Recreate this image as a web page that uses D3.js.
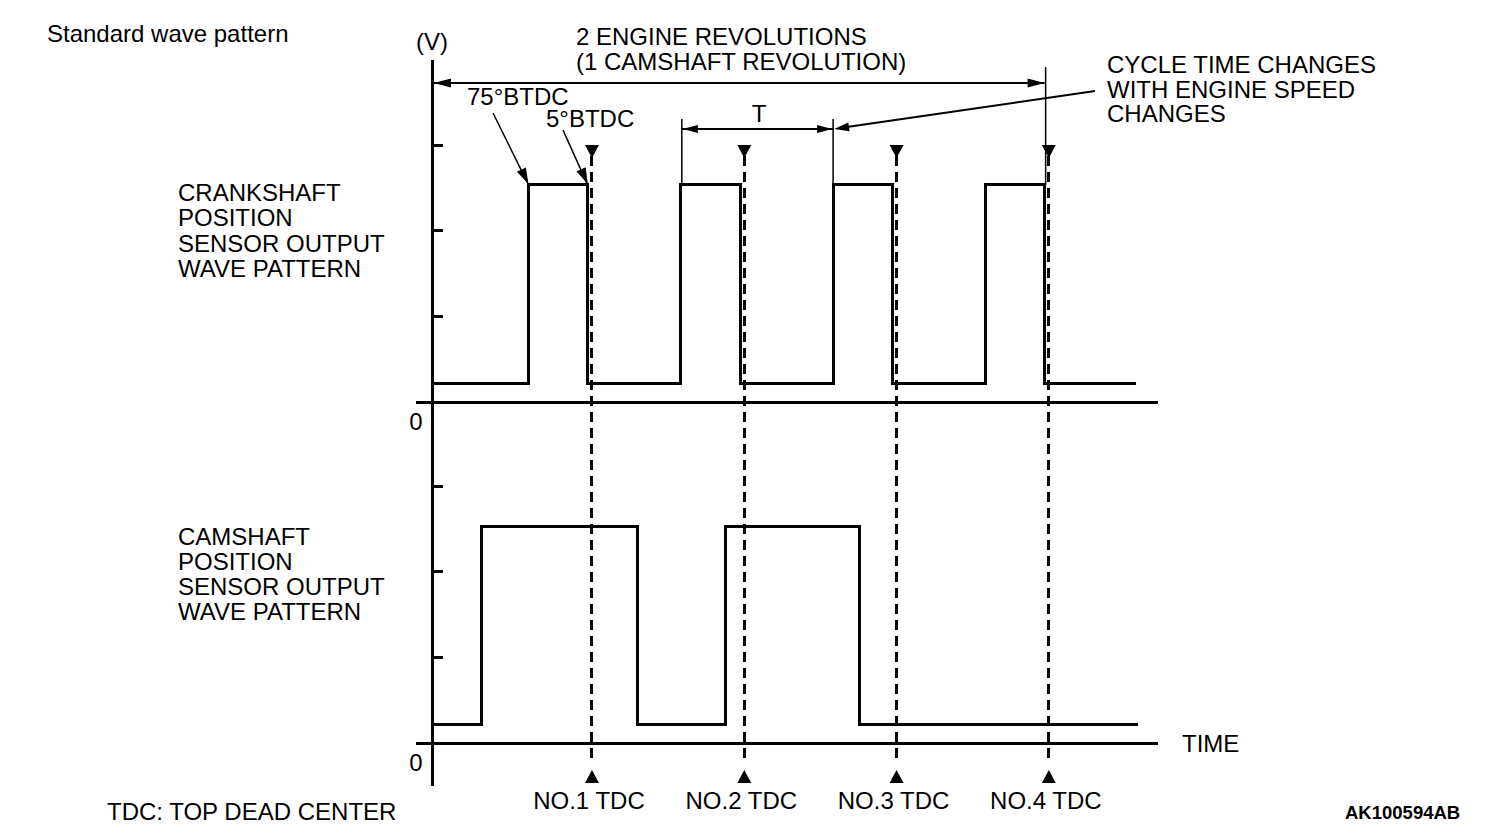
<!DOCTYPE html>
<html>
<head>
<meta charset="utf-8">
<script src="https://cdn.jsdelivr.net/npm/d3@7"></script>
<style>
  html, body { margin: 0; padding: 0; background: #fff; }
  svg { display: block; }
  text { font-family: "Liberation Sans", Arial, Helvetica, sans-serif; fill: #000; }
</style>
</head>
<body>
<svg id="chart" width="1504" height="840"></svg>
<script>
// ---- data (crank angle in degrees, signal in volts) ----
const tdcLabels = ["NO.1 TDC", "NO.2 TDC", "NO.3 TDC", "NO.4 TDC"];
const tdcAngles = [188, 368, 548, 728];
const crankTimes = [0, 113, 183, 293, 363, 473, 543, 653, 723, 831];
const crankVolts = [0.22, 2.53, 0.22, 2.53, 0.22, 2.53, 0.22, 2.53, 0.22, 0.22];
const camTimes = [0, 57, 242, 346, 504, 833];
const camVolts = [0.21, 2.52, 0.21, 2.52, 0.21, 0.21];
const yTickValues = [1, 2, 3];
const crankLabel = ["CRANKSHAFT", "POSITION", "SENSOR OUTPUT", "WAVE PATTERN"];
const camLabel = ["CAMSHAFT", "POSITION", "SENSOR OUTPUT", "WAVE PATTERN"];
const revLabel = ["2 ENGINE REVOLUTIONS", "(1 CAMSHAFT REVOLUTION)"];
const cycleLabel = ["CYCLE TIME CHANGES", "WITH ENGINE SPEED", "CHANGES"];

const svg = d3.select("#chart");
const FS = 24;

const x = d3.scaleLinear().domain([-20, 857]).range([416, 1158]);
const yUp = d3.scaleLinear().domain([0, 4]).range([402, 58.8]);
const yLo = d3.scaleLinear().domain([0, 4]).range([743, 399.8]);

// ---- axes ----
const axisX = x(0);
svg.append("line").attr("x1", axisX).attr("x2", axisX).attr("y1", yUp(4) + 1).attr("y2", 786)
  .attr("stroke", "#000").attr("stroke-width", 3).attr("shape-rendering", "crispEdges");

[yUp, yLo].forEach(ys => {
  const g = svg.append("g").attr("transform", `translate(${axisX},0)`)
    .call(d3.axisRight(ys).tickValues(yTickValues).tickSize(10).tickFormat(""));
  g.select(".domain").remove();
  g.selectAll(".tick line").attr("stroke", "#000").attr("stroke-width", 3).attr("shape-rendering", "crispEdges");
  // baseline (x axis)
  svg.append("line").attr("x1", x.range()[0]).attr("x2", x.range()[1])
    .attr("y1", ys(0)).attr("y2", ys(0)).attr("stroke", "#000").attr("stroke-width", 3)
    .attr("shape-rendering", "crispEdges");
  svg.append("text").attr("x", 416).attr("y", ys(0) + 28).attr("text-anchor", "middle")
    .attr("font-size", FS).text("0");
});

// ---- TDC dashed lines ----
tdcAngles.forEach((a, i) => {
  const xx = x(a);
  svg.append("line").attr("x1", xx).attr("x2", xx).attr("y1", 156).attr("y2", 760)
    .attr("stroke", "#000").attr("stroke-width", 3).attr("stroke-dasharray", "10,6")
    .attr("shape-rendering", "crispEdges");
  svg.append("path").attr("d", `M${xx - 7},145 L${xx + 7},145 L${xx},158 Z`).attr("fill", "#000");
  svg.append("path").attr("d", `M${xx - 7},783 L${xx + 7},783 L${xx},770 Z`).attr("fill", "#000");
  svg.append("text").attr("x", xx - 3).attr("y", 809).attr("text-anchor", "middle")
    .attr("font-size", FS).text(tdcLabels[i]);
});

// ---- waves ----
const crankData = crankTimes.map((t, i) => [t, crankVolts[i]]);
const camData = camTimes.map((t, i) => [t, camVolts[i]]);
svg.append("path").datum(crankData)
  .attr("d", d3.line().x(d => x(d[0])).y(d => yUp(d[1])).curve(d3.curveStepAfter))
  .attr("fill", "none").attr("stroke", "#000").attr("stroke-width", 3).attr("shape-rendering", "crispEdges");
svg.append("path").datum(camData)
  .attr("d", d3.line().x(d => x(d[0])).y(d => yLo(d[1])).curve(d3.curveStepAfter))
  .attr("fill", "none").attr("stroke", "#000").attr("stroke-width", 3).attr("shape-rendering", "crispEdges");

// ---- arrows helper ----
function arrowHead(tipX, tipY, fromX, fromY, len, half) {
  const dx = tipX - fromX, dy = tipY - fromY, L = Math.hypot(dx, dy);
  const ux = dx / L, uy = dy / L;
  const bx = tipX - ux * len, by = tipY - uy * len;
  svg.append("path")
    .attr("d", `M${tipX},${tipY} L${bx - uy * half},${by + ux * half} L${bx + uy * half},${by - ux * half} Z`)
    .attr("fill", "#000");
}
function seg(x1, y1, x2, y2, w) {
  svg.append("line").attr("x1", x1).attr("y1", y1).attr("x2", x2).attr("y2", y2)
    .attr("stroke", "#000").attr("stroke-width", w);
}

// 2 engine revolutions arrow
const revStart = x(crankTimes[0]), revEnd = x(crankTimes[8]);
const highY = yUp(crankVolts[1]);
seg(revStart, 83, revEnd, 83, 2);
arrowHead(revStart + 1, 83, revEnd, 83, 17, 4.5);
arrowHead(revEnd, 83, revStart, 83, 17, 4.5);
seg(revEnd + 1, 67, revEnd + 1, highY, 1.5);

// T arrow
const tA = x(crankTimes[3]), tB = x(crankTimes[5]);
seg(tA + 1, 119, tA + 1, highY, 1.5);
seg(tB, 119, tB, highY, 1.5);
seg(tA + 1, 129, tB, 129, 2);
arrowHead(tA + 2, 129, tB, 129, 15, 4);
arrowHead(tB - 1, 129, tA, 129, 15, 4);
svg.append("text").attr("x", (tA + tB) / 2 + 2).attr("y", 122).attr("text-anchor", "middle")
  .attr("font-size", FS).text("T");

// cycle time leader
seg(1095, 91, tB + 12, 127.3, 2);
arrowHead(tB + 1, 129, 1095, 91, 15, 4.5);

// 75° and 5° BTDC leaders
const r1 = x(crankTimes[1]), f1 = x(crankTimes[2]);
seg(493, 113, r1 - 1, highY - 2, 1.5);
arrowHead(r1, highY - 1, 493, 113, 16, 5);
seg(563, 130, f1 - 1, highY - 2, 1.5);
arrowHead(f1, highY - 1, 563, 130, 16, 5);

// ---- texts ----
svg.append("text").attr("x", 47).attr("y", 42).attr("font-size", FS).text("Standard wave pattern");
svg.append("text").attr("x", 416).attr("y", 50).attr("font-size", FS).text("(V)");
revLabel.forEach((t, i) => svg.append("text").attr("x", 576).attr("y", 45 + i * 24.5)
  .attr("font-size", FS).text(t));
cycleLabel.forEach((t, i) => svg.append("text").attr("x", 1107).attr("y", 73 + i * 24.5)
  .attr("font-size", FS).text(t));
svg.append("text").attr("x", 467).attr("y", 105).attr("font-size", FS).text("75°BTDC");
svg.append("text").attr("x", 546).attr("y", 127).attr("font-size", FS).text("5°BTDC");
crankLabel.forEach((t, i) => svg.append("text").attr("x", 178).attr("y", 201 + i * 25.3)
  .attr("font-size", FS).text(t));
camLabel.forEach((t, i) => svg.append("text").attr("x", 178).attr("y", 545 + i * 25)
  .attr("font-size", FS).text(t));
svg.append("text").attr("x", 1182).attr("y", 752).attr("font-size", FS).text("TIME");
svg.append("text").attr("x", 107).attr("y", 820).attr("font-size", FS).text("TDC: TOP DEAD CENTER");
svg.append("text").attr("x", 1345).attr("y", 819).attr("font-size", 18.5).attr("font-weight", "bold")
  .text("AK100594AB");
</script>
</body>
</html>
